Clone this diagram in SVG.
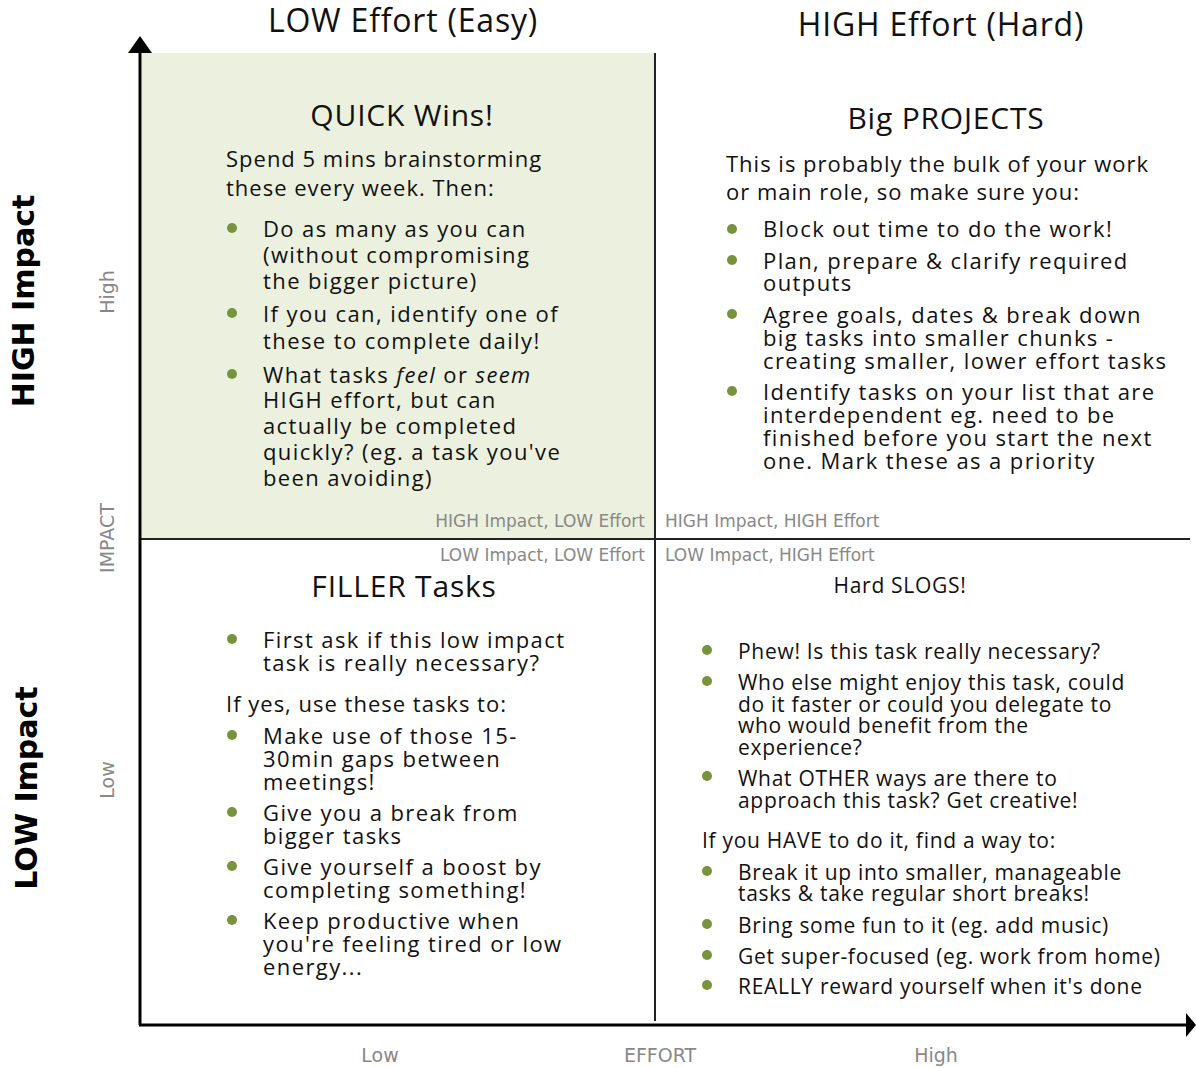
<svg xmlns="http://www.w3.org/2000/svg" width="1196" height="1068" viewBox="0 0 1196 1068">
<style>
.b{font-family:"Open Sans","Liberation Sans",sans-serif;font-size:22px;fill:#111;letter-spacing:1.4px}
.p{font-family:"Open Sans","Liberation Sans",sans-serif;font-size:22px;fill:#111;letter-spacing:1px}
.br{font-family:"Open Sans","Liberation Sans",sans-serif;font-size:21px;fill:#111;letter-spacing:0.7px}
.t{font-family:"Open Sans","Liberation Sans",sans-serif;font-size:30px;fill:#111;text-anchor:middle;letter-spacing:0.8px}
.h{font-family:"Open Sans","Liberation Sans",sans-serif;font-size:32px;fill:#111;text-anchor:middle;letter-spacing:0.8px}
.g{font-family:"DejaVu Sans","Liberation Sans",sans-serif;font-size:17px;fill:#888}
.ax{font-family:"DejaVu Sans","Liberation Sans",sans-serif;font-size:19px;fill:#888;text-anchor:middle}
.side{font-family:"DejaVu Sans","Liberation Sans",sans-serif;font-size:30px;font-weight:bold;fill:#000;text-anchor:middle}
.dot{fill:#77933c}
.div{stroke:#222;stroke-width:2;fill:none}
.axis{stroke:#000;stroke-width:3;fill:none}
</style>
<rect width="1196" height="1068" fill="#fff"/>
<g id="headers">
<text class="h" x="403" y="32">LOW Effort (Easy)</text>
<text class="h" x="941" y="36">HIGH Effort (Hard)</text>
<text class="side" transform="translate(34,301) rotate(-90)">HIGH Impact</text>
<text class="side" transform="translate(37,788) rotate(-90)">LOW Impact</text>
<text class="ax" transform="translate(114,292) rotate(-90)">High</text>
<text class="ax" transform="translate(114,538) rotate(-90)">IMPACT</text>
<text class="ax" transform="translate(114,780) rotate(-90)">Low</text>
<text class="ax" x="380" y="1062">Low</text>
<text class="ax" x="660" y="1062">EFFORT</text>
<text class="ax" x="936" y="1062">High</text>
</g>
<g id="quick-wins">
<rect x="142" y="53" width="513" height="486" fill="#ebf1de"/>
<text class="t" x="402" y="126">QUICK Wins!</text>
<text class="p" x="226" y="167">Spend 5 mins brainstorming</text>
<text class="p" x="226" y="196">these every week. Then:</text>
<circle class="dot" cx="232" cy="228" r="5"/>
<text class="b" x="263" y="237">Do as many as you can</text>
<text class="b" x="263" y="263">(without compromising</text>
<text class="b" x="263" y="289">the bigger picture)</text>
<circle class="dot" cx="232" cy="313" r="5"/>
<text class="b" x="263" y="322">If you can, identify one of</text>
<text class="b" x="263" y="349">these to complete daily!</text>
<circle class="dot" cx="232" cy="374" r="5"/>
<text class="b" x="263" y="383">What tasks <tspan font-style="italic">feel</tspan> or <tspan font-style="italic">seem</tspan></text>
<text class="b" x="263" y="408">HIGH effort, but can</text>
<text class="b" x="263" y="434">actually be completed</text>
<text class="b" x="263" y="460">quickly? (eg. a task you've</text>
<text class="b" x="263" y="486">been avoiding)</text>
<text class="g" x="645" y="527" text-anchor="end">HIGH Impact, LOW Effort</text>
</g>
<g id="big-projects">
<text class="t" x="946" y="129">Big PROJECTS</text>
<text class="p" x="726" y="172">This is probably the bulk of your work</text>
<text class="p" x="726" y="200">or main role, so make sure you:</text>
<circle class="dot" cx="732" cy="229" r="5"/>
<text class="b" x="763" y="237">Block out time to do the work!</text>
<circle class="dot" cx="732" cy="260" r="5"/>
<text class="b" x="763" y="269">Plan, prepare &amp; clarify required</text>
<text class="b" x="763" y="291">outputs</text>
<circle class="dot" cx="732" cy="314" r="5"/>
<text class="b" x="763" y="323">Agree goals, dates &amp; break down</text>
<text class="b" x="763" y="346">big tasks into smaller chunks -</text>
<text class="b" x="763" y="369">creating smaller, lower effort tasks</text>
<circle class="dot" cx="732" cy="391" r="5"/>
<text class="b" x="763" y="400">Identify tasks on your list that are</text>
<text class="b" x="763" y="423">interdependent eg. need to be</text>
<text class="b" x="763" y="446">finished before you start the next</text>
<text class="b" x="763" y="469">one. Mark these as a priority</text>
<text class="g" x="665" y="527">HIGH Impact, HIGH Effort</text>
</g>
<g id="filler-tasks">
<text class="g" x="645" y="561" text-anchor="end">LOW Impact, LOW Effort</text>
<text class="t" x="404" y="597">FILLER Tasks</text>
<circle class="dot" cx="232" cy="639" r="5"/>
<text class="b" x="263" y="648">First ask if this low impact</text>
<text class="b" x="263" y="671">task is really necessary?</text>
<text class="p" x="226" y="712">If yes, use these tasks to:</text>
<circle class="dot" cx="232" cy="735" r="5"/>
<text class="b" x="263" y="744">Make use of those 15-</text>
<text class="b" x="263" y="767">30min gaps between</text>
<text class="b" x="263" y="790">meetings!</text>
<circle class="dot" cx="232" cy="812" r="5"/>
<text class="b" x="263" y="821">Give you a break from</text>
<text class="b" x="263" y="844">bigger tasks</text>
<circle class="dot" cx="232" cy="866" r="5"/>
<text class="b" x="263" y="875">Give yourself a boost by</text>
<text class="b" x="263" y="898">completing something!</text>
<circle class="dot" cx="232" cy="920" r="5"/>
<text class="b" x="263" y="929">Keep productive when</text>
<text class="b" x="263" y="952">you're feeling tired or low</text>
<text class="b" x="263" y="975">energy...</text>
</g>
<g id="hard-slogs">
<text class="g" x="665" y="561">LOW Impact, HIGH Effort</text>
<text class="br" x="900" y="593" text-anchor="middle" letter-spacing="1">Hard SLOGS!</text>
<circle class="dot" cx="707" cy="650" r="5"/>
<text class="br" x="738" y="659">Phew! Is this task really necessary?</text>
<circle class="dot" cx="707" cy="681" r="5"/>
<text class="br" x="738" y="690">Who else might enjoy this task, could</text>
<text class="br" x="738" y="712">do it faster or could you delegate to</text>
<text class="br" x="738" y="733">who would benefit from the</text>
<text class="br" x="738" y="755">experience?</text>
<circle class="dot" cx="707" cy="776" r="5"/>
<text class="br" x="738" y="786">What OTHER ways are there to</text>
<text class="br" x="738" y="808">approach this task? Get creative!</text>
<text class="br" x="702" y="848">If you HAVE to do it, find a way to:</text>
<circle class="dot" cx="707" cy="871" r="5"/>
<text class="br" x="738" y="880">Break it up into smaller, manageable</text>
<text class="br" x="738" y="901">tasks &amp; take regular short breaks!</text>
<circle class="dot" cx="707" cy="924" r="5"/>
<text class="br" x="738" y="933">Bring some fun to it (eg. add music)</text>
<circle class="dot" cx="707" cy="955" r="5"/>
<text class="br" x="738" y="964">Get super-focused (eg. work from home)</text>
<circle class="dot" cx="707" cy="985" r="5"/>
<text class="br" x="738" y="994">REALLY reward yourself when it's done</text>
</g>
<g id="connectors">
<line class="div" x1="655" y1="53" x2="655" y2="1021"/>
<line class="div" x1="140" y1="539" x2="1190" y2="539"/>
<line class="axis" x1="140" y1="50" x2="140" y2="1025"/>
<line class="axis" x1="139" y1="1025" x2="1188" y2="1025"/>
<polygon points="140,36 128,53 152,53" fill="#000"/>
<polygon points="1196,1025 1186,1013 1186,1037" fill="#000"/>
</g>
</svg>
